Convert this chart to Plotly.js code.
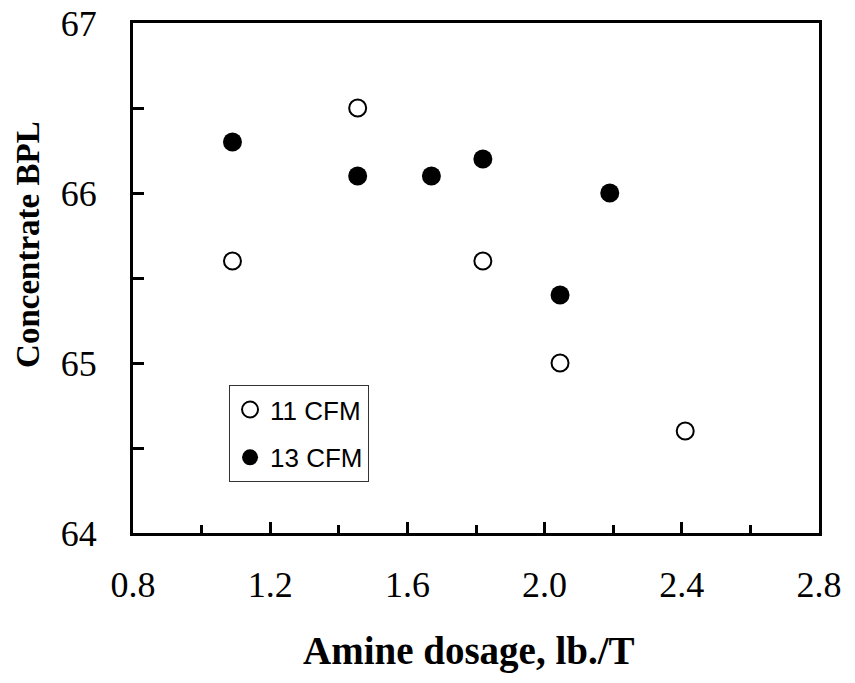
<!DOCTYPE html>
<html>
<head>
<meta charset="utf-8">
<script src="https://cdn.plot.ly/plotly-3.0.1.min.js"></script>
<style>html,body{margin:0;padding:0;background:#fff;}#chart{width:855px;height:683px;}</style>
</head>
<body>
<div id="chart"></div>
<script>
const seriesNames = ["11 CFM", "13 CFM"];
const dosage11 = [1.09, 1.455, 1.82, 2.045, 2.41];
const bpl11 = [65.6, 66.5, 65.6, 65.0, 64.6];
const dosage13 = [1.09, 1.455, 1.67, 1.82, 2.045, 2.19];
const bpl13 = [66.3, 66.1, 66.1, 66.2, 65.4, 66.0];
const xTickVals = [0.8, 1.2, 1.6, 2.0, 2.4, 2.8];
const xTickText = ["0.8", "1.2", "1.6", "2.0", "2.4", "2.8"];
const yTickVals = [64, 65, 66, 67];
const yTickText = ["64", "65", "66", "67"];
const xTitle = "Amine dosage, lb./T";
const yTitle = "Concentrate BPL";

const traces = [
  {x: dosage11, y: bpl11, name: seriesNames[0], type: "scatter", mode: "markers", legendgroup: "a",
   marker: {symbol: "circle", size: 17, color: "#ffffff", line: {color: "#000000", width: 2}}},
  {x: dosage13, y: bpl13, name: seriesNames[1], type: "scatter", mode: "markers", legendgroup: "b",
   marker: {symbol: "circle", size: 19, color: "#000000", line: {color: "#000000", width: 0}}}
];

const tickFont = {family: "Liberation Serif, Times New Roman, serif", size: 36, color: "#000"};
const layout = {
  width: 855, height: 683,
  margin: {l: 133, r: 36, t: 23, b: 150},
  paper_bgcolor: "#fff", plot_bgcolor: "#fff",
  showlegend: true,
  legend: {x: 0.14, y: 0.29, xanchor: "left", yanchor: "top",
    bordercolor: "#333", borderwidth: 1, bgcolor: "#fff",
    font: {family: "Liberation Sans, Arial, sans-serif", size: 26, color: "#000"},
    traceorder: "grouped", tracegroupgap: 11},
  xaxis: {range: [0.8, 2.8], tickvals: xTickVals, ticktext: xTickText,
    showline: true, linecolor: "#000", linewidth: 3, mirror: true, showgrid: false, zeroline: false,
    ticks: "inside", ticklen: 11, tickwidth: 3, tickcolor: "#000",
    minor: {dtick: 0.2, tick0: 0.8, ticks: "inside", ticklen: 8, tickwidth: 3, tickcolor: "#000", showgrid: false},
    tickfont: tickFont, ticklabelstandoff: 18},
  yaxis: {range: [64, 67], tickvals: yTickVals, ticktext: yTickText,
    showline: true, linecolor: "#000", linewidth: 3, mirror: true, showgrid: false, zeroline: false,
    ticks: "inside", ticklen: 11, tickwidth: 3, tickcolor: "#000",
    minor: {dtick: 0.5, tick0: 64, ticks: "inside", ticklen: 11, tickwidth: 3, tickcolor: "#000", showgrid: false},
    tickfont: tickFont, ticklabelstandoff: 26},
  annotations: [
    {text: xTitle, xref: "paper", yref: "paper", x: 0.49, y: -0.232, xanchor: "center", yanchor: "middle", showarrow: false,
     font: {family: "Liberation Serif, Times New Roman, serif", size: 39, color: "#000", weight: "bold"}},
    {text: yTitle, xref: "paper", yref: "paper", x: -0.153, y: 0.565, xanchor: "center", yanchor: "middle", showarrow: false, textangle: -90,
     font: {family: "Liberation Serif, Times New Roman, serif", size: 33, color: "#000", weight: "bold"}}
  ]
};
Plotly.newPlot("chart", traces, layout, {displayModeBar: false, staticPlot: true});
</script>
</body>
</html>
